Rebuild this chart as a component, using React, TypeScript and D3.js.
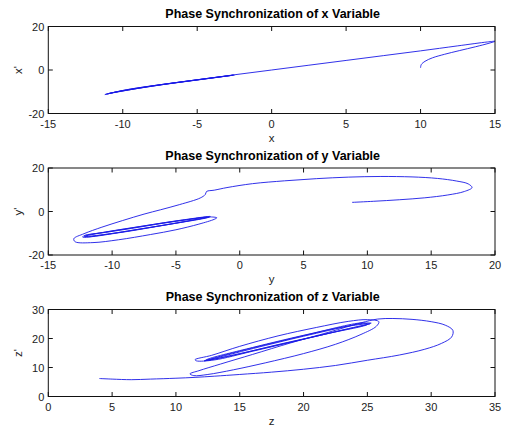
import React from 'react';
import * as d3 from 'd3';

type Pt = [number, number];

// x vs x'
const xTransient: Pt[] = [
  [10, 1], [10.05, 2.5], [10.3, 4], [10.8, 5.6], [11.6, 7.2], [12.6, 8.9],
  [13.7, 10.7], [14.6, 12.3], [15, 13.2],
];
const xSynced: Pt[] = [
  [14.5, 12.9], [12.5, 11.1], [10, 8.8], [7.5, 6.6], [5, 4.4], [2.5, 2.2], [0, 0],
  [-2.5, -2.2], [-5, -4.5], [-7.5, -6.8], [-10, -9.4], [-11.2, -11.3],
  [-10.6, -10.3], [-8, -7.4], [-5, -4.6], [-2.6, -2.4], [-5, -4.5], [-8, -7.3],
  [-11, -10.9], [-10.5, -10.2], [-7, -6.4], [-4, -3.7], [-2.5, -2.3], [-6, -5.4],
  [-9.5, -8.8], [-11.1, -11.1],
];

// y vs y'
const yTransient: Pt[] = [
  [8.8, 4.2], [10.5, 4.7], [12.5, 5.4], [14.5, 6.3], [16.3, 7.6], [17.6, 9.2],
  [18.2, 11], [17.9, 12.7], [17, 14], [15.5, 15.2], [13.5, 15.9], [11, 16.1],
  [8.5, 15.8], [6, 15.1], [3.5, 14.1], [1, 12.8], [-1, 11], [-2, 9.8],
  [-2.6, 9.2], [-2.7, 7.8], [-3.1, 6.2], [-4.7, 3.2], [-6.2, 0.8], [-7.5, -1.2],
  [-9.2, -4.2], [-10.8, -7.2], [-12.2, -10.2], [-13, -12.5], [-12.9, -13.9],
  [-11.5, -14.3], [-9.5, -13], [-7, -10.6], [-5, -8.4], [-3.2, -5.8], [-2, -3.6],
  [-1.8, -2.9], [-2.4, -2.5],
];
const ySynced: Pt[] = [
  [-4, -3.7], [-6, -5.4], [-8.5, -7.8], [-10.5, -9.6], [-12.2, -11.1],
  [-12.3, -11.8], [-11, -11], [-8, -8.2], [-5, -5.4], [-2.5, -2.8], [-2.3, -2.3],
  [-4.5, -3.9], [-7.5, -6.6], [-10.5, -9.4], [-12.1, -11.2], [-12, -11.6],
  [-9.5, -9.8], [-6.5, -6.9], [-3.5, -3.8], [-2.4, -2.5], [-5, -4.4],
  [-8.5, -7.6], [-11.5, -10.5], [-12.2, -11.5], [-10, -10.1], [-6, -6.3],
  [-2.6, -2.8],
];

// z vs z'
const zTransient: Pt[] = [
  [4, 6.2], [5, 6], [6.5, 5.8], [8, 6], [10, 6.3], [11.5, 6.6], [13, 7],
  [15, 7.6], [17.5, 8.4], [20, 9.4], [22.5, 10.7], [25, 12.5], [27.5, 14.3],
  [29.5, 16.3], [30.8, 18.3], [31.6, 20.5], [31.7, 22.8], [31.1, 24.6],
  [30, 25.8], [28.5, 26.6], [27, 26.9], [25.8, 26.7], [24.5, 25.4],
  [22, 22.2], [19, 18.5], [16, 14.5], [13.5, 11.2], [11.8, 8.9], [11.1, 7.8],
  [11.4, 7.2], [12.5, 7.6], [14.5, 9.2], [17, 11.6], [20, 14.8], [22.5, 18],
  [24.5, 21.4], [25.7, 24.2], [25.9, 25.8], [25, 26.5], [23.5, 25.9],
  [21, 23.8], [18, 20.9], [15, 17.3], [12.8, 14.2], [11.5, 12.7], [11.6, 12.3],
];
const zSynced: Pt[] = [
  [13, 12.6], [16, 15.6], [19.5, 19.2], [23, 22.9], [25.3, 25.3], [24.6, 25.2],
  [21, 21.8], [17, 17.6], [13.5, 13.7], [12.2, 12.3], [14.5, 14.2], [18, 17.9],
  [22, 21.8], [25, 24.9], [24.7, 25.4], [20.5, 21.6], [16, 16.9], [12.5, 12.9],
  [12.3, 12.4], [15, 14.8], [19, 18.8], [23, 22.8], [25.2, 25.1], [23, 23.9],
  [18.5, 19.4], [14, 14.5], [12.4, 12.5],
];

const xTicks1 = [-15, -10, -5, 0, 5, 10, 15];
const yTicks1 = [-20, 0, 20];
const xTicks2 = [-15, -10, -5, 0, 5, 10, 15, 20];
const yTicks2 = [-20, 0, 20];
const xTicks3 = [0, 5, 10, 15, 20, 25, 30, 35];
const yTicks3 = [0, 10, 20, 30];

const W = 510;
const H = 428;
const LEFT = 48.3;
const RIGHT = 495;
const PH = 87;
const TICK = 4.5;
const FONT = '"Liberation Sans", Arial, Helvetica, sans-serif';

interface PanelProps {
  top: number;
  title: string;
  xLabel: string;
  yLabel: string;
  xTicks: number[];
  yTicks: number[];
  points: Pt[];
}

function Panel({ top, title, xLabel, yLabel, xTicks, yTicks, points }: PanelProps) {
  const x = d3.scaleLinear()
    .domain([xTicks[0], xTicks[xTicks.length - 1]])
    .range([LEFT, RIGHT]);
  const y = d3.scaleLinear()
    .domain([yTicks[0], yTicks[yTicks.length - 1]])
    .range([top + PH, top]);
  const bottom = top + PH;

  const line = d3.line<Pt>()
    .x(d => x(d[0]))
    .y(d => y(d[1]))
    .curve(d3.curveCatmullRom.alpha(0.5));

  return (
    <g fontFamily={FONT}>
      <text x={(LEFT + RIGHT) / 2 + 1} y={top - 8.5} textAnchor="middle"
        fontSize={12.5} fontWeight="bold" fill="#000">{title}</text>

      <path d={line(points) || ''} fill="none" stroke="#1a1ae6" strokeWidth={0.9}
        strokeLinejoin="round" />

      <rect x={LEFT} y={top} width={RIGHT - LEFT} height={PH}
        fill="none" stroke="#111" strokeWidth={1} />

      {xTicks.map(t => (
        <g key={'x' + t}>
          <line x1={x(t)} x2={x(t)} y1={bottom} y2={bottom - TICK} stroke="#111" />
          <line x1={x(t)} x2={x(t)} y1={top} y2={top + TICK} stroke="#111" />
          <text x={x(t)} y={bottom + 14} textAnchor="middle" fontSize={11}
            fill="#222">{t}</text>
        </g>
      ))}
      {yTicks.map(t => (
        <g key={'y' + t}>
          <line x1={LEFT} x2={LEFT + TICK} y1={y(t)} y2={y(t)} stroke="#111" />
          <line x1={RIGHT} x2={RIGHT - TICK} y1={y(t)} y2={y(t)} stroke="#111" />
          <text x={LEFT - 4} y={y(t) + 4} textAnchor="end" fontSize={11}
            fill="#222">{t}</text>
        </g>
      ))}

      <text x={(LEFT + RIGHT) / 2} y={bottom + 28} textAnchor="middle"
        fontSize={11.5} fill="#222">{xLabel}</text>
      <text transform={`translate(22,${top + PH / 2}) rotate(-90)`} textAnchor="middle"
        fontSize={11.5} fill="#222">{yLabel}</text>
    </g>
  );
}

export default function App() {
  return (
    <svg width={W} height={H} style={{ position: 'absolute', left: 0, top: 0, background: '#fff' }}>
      <rect width={W} height={H} fill="#fff" />
      <Panel top={26.5} title="Phase Synchronization of x Variable" xLabel="x" yLabel="x'"
        xTicks={xTicks1} yTicks={yTicks1} points={[...xTransient, ...xSynced]} />
      <Panel top={168} title="Phase Synchronization of y Variable" xLabel="y" yLabel="y'"
        xTicks={xTicks2} yTicks={yTicks2} points={[...yTransient, ...ySynced]} />
      <Panel top={309.5} title="Phase Synchronization of z Variable" xLabel="z" yLabel="z'"
        xTicks={xTicks3} yTicks={yTicks3} points={[...zTransient, ...zSynced]} />
    </svg>
  );
}
